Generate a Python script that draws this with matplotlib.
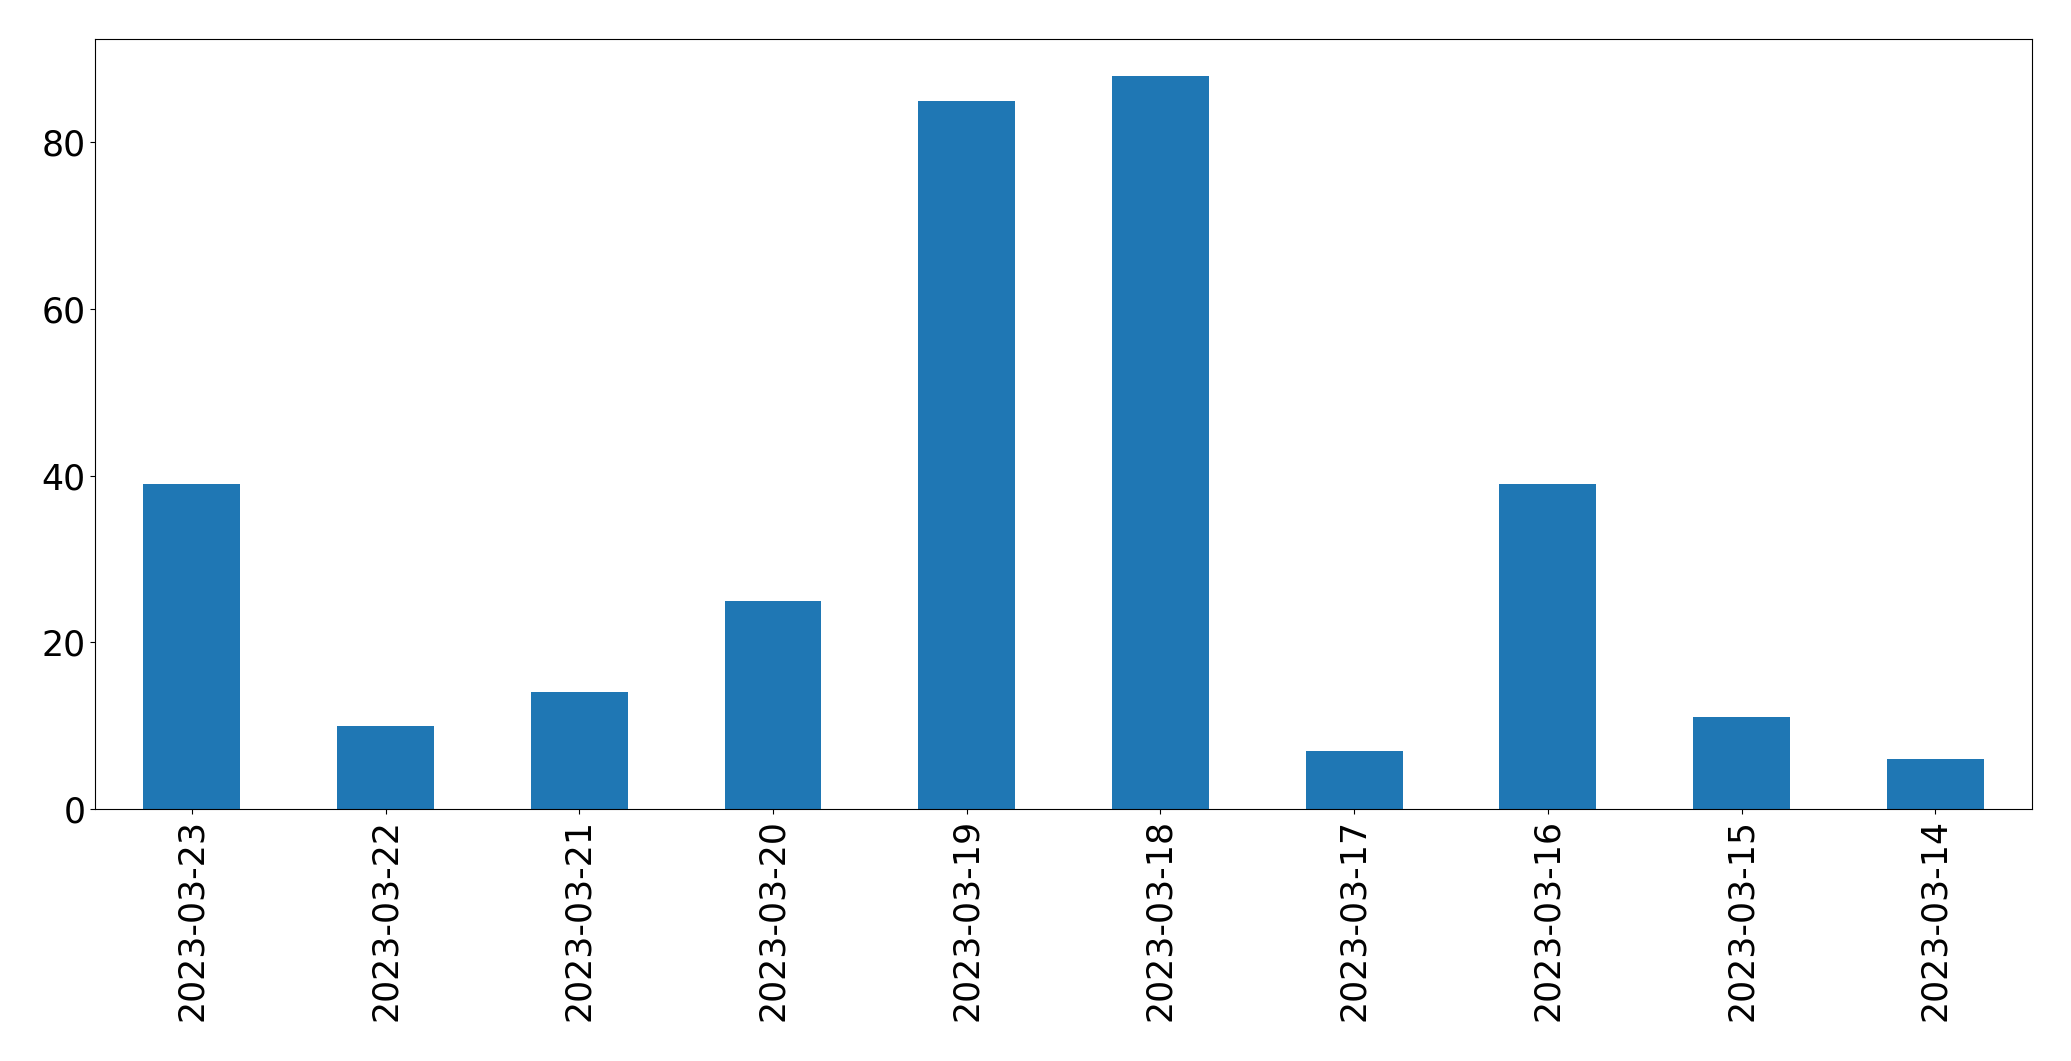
import matplotlib
matplotlib.use("Agg")
import matplotlib.pyplot as plt

dates = ["2023-03-23", "2023-03-22", "2023-03-21", "2023-03-20", "2023-03-19",
         "2023-03-18", "2023-03-17", "2023-03-16", "2023-03-15", "2023-03-14"]
counts = [39, 10, 14, 25, 85, 88, 7, 39, 11, 6]

fig = plt.figure(figsize=(20.71, 10.61), dpi=100)
ax = fig.add_axes([0.0459, 0.2375, 0.9353, 0.7257])
x = list(range(len(dates)))
ax.bar(x, counts, width=0.5, color="#1f77b4")
ax.set_xlim(-0.5, len(dates) - 0.5)
ax.set_ylim(0, max(counts) * 1.05)
ax.set_xticks(x)
ax.set_xticklabels(dates, rotation=90)
ax.set_yticks([0, 20, 40, 60, 80])
ax.tick_params(axis="both", labelsize=25)
fig.savefig("out.png", dpi=100)
